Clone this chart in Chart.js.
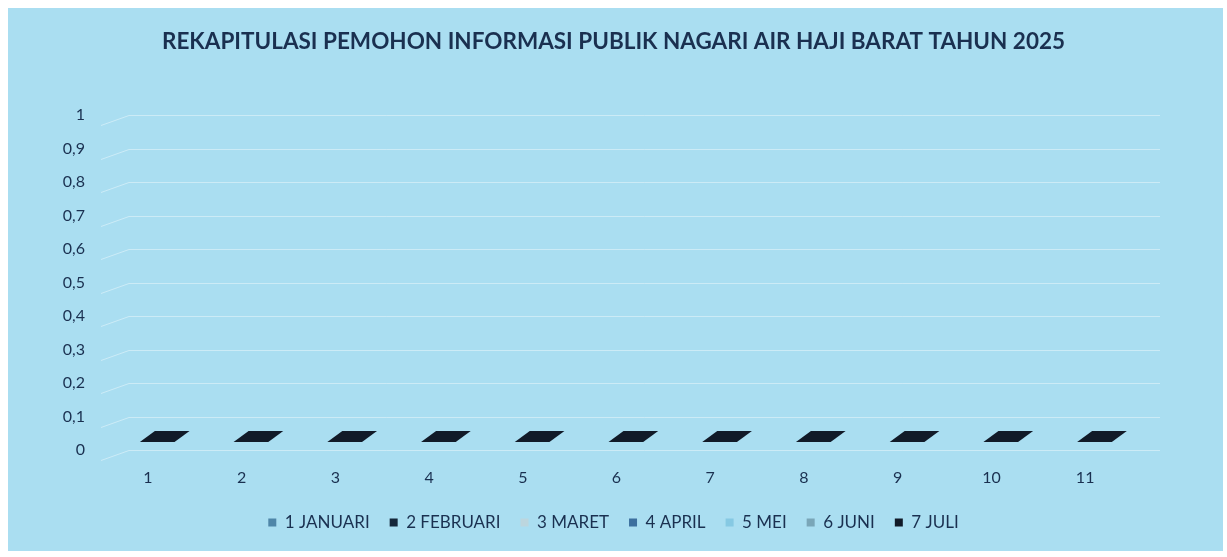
<!DOCTYPE html>
<html>
<head>
<meta charset="utf-8">
<script src="https://cdn.jsdelivr.net/npm/chart.js@4.4.1/dist/chart.umd.min.js"></script>
<style>
  html, body { margin: 0; padding: 0; background: #ffffff; }
  #wrap { width: 1227px; height: 557px; }
</style>
</head>
<body>
<div id="wrap"><canvas id="chart" width="1227" height="557"></canvas></div>
<script>
// categories on the x axis
const categories = ['1', '2', '3', '4', '5', '6', '7', '8', '9', '10', '11'];

// one series per month, all zero in the source
const seriesNames = ['1 JANUARI', '2 FEBRUARI', '3 MARET', '4 APRIL', '5 MEI', '6 JUNI', '7 JULI'];
const januari  = [0, 0, 0, 0, 0, 0, 0, 0, 0, 0, 0];
const februari = [0, 0, 0, 0, 0, 0, 0, 0, 0, 0, 0];
const maret    = [0, 0, 0, 0, 0, 0, 0, 0, 0, 0, 0];
const april    = [0, 0, 0, 0, 0, 0, 0, 0, 0, 0, 0];
const mei      = [0, 0, 0, 0, 0, 0, 0, 0, 0, 0, 0];
const juni     = [0, 0, 0, 0, 0, 0, 0, 0, 0, 0, 0];
const juli     = [0, 0, 0, 0, 0, 0, 0, 0, 0, 0, 0];
const seriesColors = ['#4f86a8', '#15273a', '#bcd6de', '#3c6f9e', '#86c9e3', '#7aa6b8', '#111a28'];

const yMin = 0;
const yMax = 1;
const yStep = 0.1;

const textColor = '#1a3050';
const bgColor = '#aadef1';

// background of the picture (card with a thin white margin)
const backgroundPlugin = {
  id: 'cardBackground',
  beforeDraw(chart) {
    const ctx = chart.ctx;
    ctx.save();
    ctx.fillStyle = '#ffffff';
    ctx.fillRect(0, 0, chart.width, chart.height);
    ctx.fillStyle = bgColor;
    ctx.fillRect(8, 8, chart.width - 12, chart.height - 14);
    ctx.restore();
  }
};

// back-wall gridlines with a slanted side wall, like the 3D chart
const wallGridPlugin = {
  id: 'wallGrid',
  beforeDatasetsDraw(chart) {
    const ctx = chart.ctx;
    const y = chart.scales.y;
    const area = chart.chartArea;
    const depthX = 28, depthY = 10;
    ctx.save();
    ctx.strokeStyle = 'rgba(255,255,255,0.4)';
    ctx.lineWidth = 1;
    y.ticks.forEach((t, i) => {
      const py = Math.round(y.getPixelForTick(i)) + 0.5;
      ctx.beginPath();
      ctx.moveTo(area.left, py + depthY);
      ctx.lineTo(area.left + depthX, py);
      ctx.lineTo(area.right + depthX, py);
      ctx.stroke();
    });
    ctx.restore();
  }
};

// zero-height 3D columns only show their flat top face
const topFacePlugin = {
  id: 'topFace',
  afterDatasetsDraw(chart) {
    const ctx = chart.ctx;
    const last = chart.data.datasets.length - 1;
    const meta = chart.getDatasetMeta(last);
    if (meta.hidden) return;
    ctx.save();
    ctx.fillStyle = chart.data.datasets[last].backgroundColor;
    meta.data.forEach((bar) => {
      const w = bar.width;
      const x0 = bar.x - 8;
      const yb = bar.y - 8;
      const skew = 15, h = 11;
      ctx.beginPath();
      ctx.moveTo(x0, yb);
      ctx.lineTo(x0 + w, yb);
      ctx.lineTo(x0 + w + skew, yb - h);
      ctx.lineTo(x0 + skew, yb - h);
      ctx.closePath();
      ctx.fill();
    });
    ctx.restore();
  }
};

const seriesData = [januari, februari, maret, april, mei, juni, juli];
const datasets = seriesNames.map((name, i) => ({
  label: name,
  data: seriesData[i],
  backgroundColor: seriesColors[i],
  borderWidth: 0,
  grouped: false,
  barPercentage: 0.37,
  categoryPercentage: 1
}));

new Chart(document.getElementById('chart').getContext('2d'), {
  type: 'bar',
  data: { labels: categories, datasets: datasets },
  options: {
    responsive: false,
    animation: false,
    layout: { padding: { top: 18, left: 8, right: 8, bottom: 16 } },
    plugins: {
      title: {
        display: true,
        text: 'REKAPITULASI PEMOHON INFORMASI PUBLIK NAGARI AIR HAJI BARAT TAHUN 2025',
        color: textColor,
        font: { family: 'Lato', size: 22.5, weight: 'bold' },
        padding: { top: 10, bottom: 60 }
      },
      legend: {
        position: 'bottom',
        labels: {
          color: textColor,
          font: { family: 'Lato', size: 17 },
          boxWidth: 8,
          boxHeight: 8,
          padding: 20
        }
      },
      tooltip: { enabled: false }
    },
    scales: {
      x: {
        grid: { display: false, drawTicks: false },
        border: { display: false },
        ticks: { color: textColor, font: { family: 'Lato', size: 16 }, padding: 18 },
        afterFit(scale) { scale.height = 44; }
      },
      y: {
        min: yMin,
        max: yMax,
        grid: { display: false, drawTicks: false },
        border: { display: false },
        ticks: {
          stepSize: yStep,
          color: textColor,
          font: { family: 'Lato', size: 16 },
          padding: 16,
          callback: (v) => String(Number(v.toFixed(1))).replace('.', ',')
        },
        afterFit(scale) { scale.width = 93; }
      },
      // empty right axis: reserves the space right of the plot so title and legend stay centred
      yRight: {
        position: 'right',
        min: yMin,
        max: yMax,
        grid: { display: false, drawTicks: false },
        border: { display: false },
        ticks: { display: false },
        afterFit(scale) { scale.width = 87; }
      }
    }
  },
  plugins: [backgroundPlugin, wallGridPlugin, topFacePlugin]
});
</script>
</body>
</html>
